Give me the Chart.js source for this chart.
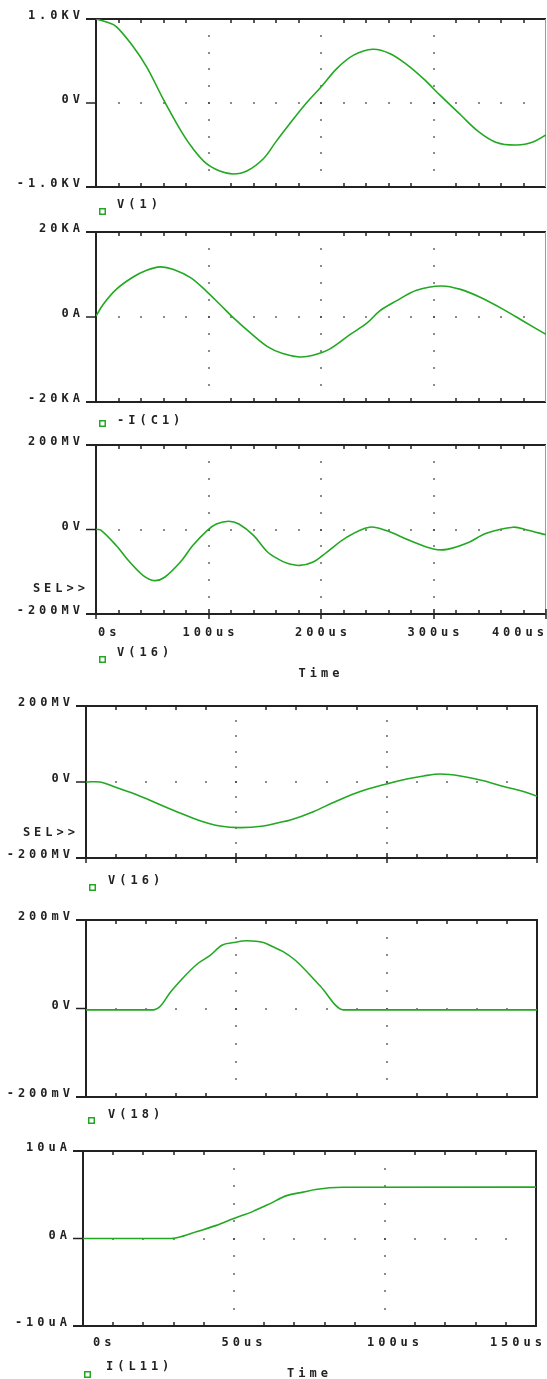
<!DOCTYPE html>
<html><head><meta charset="utf-8">
<script src="https://cdn.jsdelivr.net/npm/chart.js@4/dist/chart.umd.min.js"></script>
<style>
html,body{margin:0;padding:0;background:#fff;overflow:hidden;}
#wrap{position:relative;width:547px;height:1379px;overflow:hidden;}
canvas{position:absolute;left:0;}
</style></head><body><div id="wrap"></div>
<script>
// ---------- data ----------
const seriesNames = ['V(1)', '-I(C1)', 'V(16)', 'V(16)', 'V(18)', 'I(L11)'];
const xTitle = 'Time';
const selMark = 'SEL>>';

const xLabelsLong  = ['0s', '100us', '200us', '300us', '400us'];
const xLabelsShort = ['0s', '50us', '100us', '150us'];

const yLabels1 = ['-1.0KV', '0V', '1.0KV'];
const yLabels2 = ['-20KA', '0A', '20KA'];
const yLabels3 = ['-200MV', '0V', '200MV'];
const yLabels4 = ['-200MV', '0V', '200MV'];
const yLabels5 = ['-200mV', '0V', '200mV'];
const yLabels6 = ['-10uA', '0A', '10uA'];

// V(1) in kV, time in us
const t1 = [0, 10, 18, 32, 45, 60, 75, 86, 98, 110, 122, 134, 149, 160, 172, 187, 200, 214, 229, 246, 261, 276, 291, 306, 324, 340, 356, 374, 389, 400];
const v1 = [1.0, 0.96, 0.91, 0.69, 0.43, 0.04, -0.32, -0.54, -0.72, -0.81, -0.845, -0.81, -0.66, -0.46, -0.25, 0.0, 0.19, 0.41, 0.57, 0.64, 0.59, 0.46, 0.29, 0.09, -0.14, -0.34, -0.47, -0.50, -0.46, -0.38];

// -I(C1) in kA
const t2 = [0, 6.5, 18, 33, 45, 57, 69, 84, 98, 110, 122, 137, 152, 166, 181, 193, 208, 226, 241, 252, 267, 285, 307, 324, 341, 362, 380, 400];
const v2 = [0.2, 3.0, 6.5, 9.4, 11.0, 11.8, 11.2, 9.25, 6.1, 3.0, -0.15, -3.7, -6.9, -8.6, -9.4, -9.0, -7.5, -4.1, -1.4, 1.4, 3.8, 6.3, 7.3, 6.5, 4.7, 1.8, -1.0, -4.1];

// V(16) in mV, 0..400us
const t3 = [0, 4, 18, 30, 42, 52, 61, 75, 86, 99, 107, 118, 127, 140, 152, 162, 170, 181, 193, 205, 223, 243, 258, 279, 300, 312, 330, 347, 371, 383, 400];
const v3 = [0, -1, -38, -77, -109, -121, -113, -77, -38, -2, 13, 19.6, 13, -14, -52, -70, -80, -85, -77, -54, -18, 5.5, -2.4, -26, -46, -47, -32, -9, 5.5, -1, -12.6];

// V(16) in mV, 0..150us
const t4 = [0, 4.7, 9.2, 15.8, 22.4, 30.2, 37.9, 44.6, 51.2, 59, 64, 68, 75.6, 83.4, 91.2, 99, 106.7, 112.3, 117.8, 124.5, 132.2, 138.9, 145.5, 150];
const v4 = [0, 0, -12, -30, -52, -78, -102, -116, -120, -116, -107, -100, -78, -50, -25, -7, 8, 16, 21, 16, 3.5, -12, -25, -37];

// V(18) in mV
const t5 = [0, 22.5, 24.7, 28, 32.4, 36.9, 41.3, 45.2, 49.1, 53.5, 59, 62, 65.7, 69.6, 77.9, 85.6, 100, 150];
const v5 = [-3, -3, 5, 36, 70, 100, 120, 143, 149, 153, 149, 140, 128, 109, 51, -3, -3, -3];

// I(L11) in uA
const t6 = [0, 29.3, 33.1, 37.5, 44.2, 49.7, 56.3, 61.8, 67.4, 72.9, 77, 86, 150];
const v6 = [0, 0, 0.27, 0.76, 1.5, 2.25, 3.1, 3.96, 4.9, 5.3, 5.6, 5.85, 5.87];

// ---------- style ----------
const GREEN = '#22a822';
const INK = '#222222';
const DOT = '#333333';
const LS = '4px';
const FAMILY = '"DejaVu Sans Mono", monospace';
const FONT = {family: FAMILY, size: 12, weight: 'bold'};
Chart.defaults.font = FONT;
Chart.defaults.color = INK;

const panels = [
  {t: t1, v: v1, name: seriesNames[0], yMax: 1,   yLabels: yLabels1, xMax: 400, xMajor: 100, xMinor: 20, xLabels: xLabelsLong,
   top: 0,    h: 218, L: 96, R: 546, T: 19,   B: 187,  showX: false, showTitle: false, xPad: 12, xOff: 2, majorOut: false, rightDark: false,
   sqDx: 3, sqDy: 21, txDx: 21, txDy: 18, sel: false, tension: 0.35, mono: false},
  {t: t2, v: v2, name: seriesNames[1], yMax: 20,  yLabels: yLabels2, xMax: 400, xMajor: 100, xMinor: 20, xLabels: xLabelsLong,
   top: 218,  h: 212, L: 96, R: 546, T: 232,  B: 402,  showX: false, showTitle: false, xPad: 12, xOff: 2, majorOut: false, rightDark: false,
   sqDx: 3, sqDy: 18, txDx: 21, txDy: 18.5, sel: false, tension: 0.35, mono: false},
  {t: t3, v: v3, name: seriesNames[2], yMax: 200, yLabels: yLabels3, xMax: 400, xMajor: 100, xMinor: 20, xLabels: xLabelsLong,
   top: 430,  h: 260, L: 96, R: 546, T: 445,  B: 614,  showX: true,  showTitle: true,  xPad: 11.5, xOff: 2, majorOut: true, rightDark: false,
   sqDx: 3, sqDy: 42, txDx: 21, txDy: 39, sel: true, tension: 0.35, mono: false},
  {t: t4, v: v4, name: seriesNames[3], yMax: 200, yLabels: yLabels4, xMax: 150, xMajor: 50, xMinor: 10, xLabels: xLabelsShort,
   top: 690,  h: 210, L: 86, R: 537, T: 706,  B: 858,  showX: false, showTitle: false, xPad: 12, xOff: 2, majorOut: true, rightDark: true,
   sqDx: 3, sqDy: 26, txDx: 22, txDy: 22.5, sel: true, tension: 0.35, mono: false},
  {t: t5, v: v5, name: seriesNames[4], yMax: 200, yLabels: yLabels5, xMax: 150, xMajor: 50, xMinor: 10, xLabels: xLabelsShort,
   top: 900,  h: 230, L: 86, R: 537, T: 920,  B: 1097, showX: false, showTitle: false, xPad: 12, xOff: 2, majorOut: false, rightDark: true,
   sqDx: 2, sqDy: 20, txDx: 22, txDy: 17.5, sel: false, tension: 0, mono: true},
  {t: t6, v: v6, name: seriesNames[5], yMax: 10,  yLabels: yLabels6, xMax: 150, xMajor: 50, xMinor: 10, xLabels: xLabelsShort,
   top: 1130, h: 260, L: 83, R: 536, T: 1151, B: 1326, showX: true,  showTitle: true,  xPad: 9.5, xOff: 10, majorOut: false, rightDark: true,
   sqDx: 1, sqDy: 45, txDx: 23, txDy: 41, sel: false, tension: 0, mono: true}
];

function seg(ctx, x1, y1, x2, y2) {
  ctx.beginPath(); ctx.moveTo(x1, y1); ctx.lineTo(x2, y2); ctx.stroke();
}

function makePlugin(p) {
  return {
    id: 'pspiceFrame',
    beforeLayout(c) { c.ctx.letterSpacing = LS; },
    beforeDraw(c) { c.ctx.letterSpacing = LS; },
    beforeDatasetsDraw(c) {
      const ctx = c.ctx, a = c.chartArea, xs = c.scales.x, ys = c.scales.y;
      ctx.save();
      const y0 = ys.getPixelForValue(0);
      const nMinor = Math.round(p.xMax / p.xMinor);
      const per = Math.round(p.xMajor / p.xMinor);
      const nMajor = Math.round(p.xMax / p.xMajor);
      // dotted grid
      ctx.fillStyle = DOT;
      for (let i = 1; i < nMinor; i++) {
        const px = xs.getPixelForValue(i * p.xMinor);
        ctx.fillRect(Math.round(px) - 0.75, Math.round(y0) - 0.75, 1.5, 1.5);
      }
      for (let j = 1; j < nMajor; j++) {
        const px = xs.getPixelForValue(j * p.xMajor);
        for (let k = 1; k < 10; k++) {
          const py = ys.getPixelForValue(-p.yMax + k * p.yMax / 5);
          ctx.fillRect(Math.round(px) - 0.75, Math.round(py) - 0.75, 1.5, 1.5);
        }
      }
      // frame
      ctx.lineCap = 'butt';
      ctx.strokeStyle = INK;
      ctx.lineWidth = 2;
      seg(ctx, a.left - 10, a.top, a.right, a.top);
      seg(ctx, a.left - 10, a.bottom, a.right, a.bottom);
      seg(ctx, a.left, a.top - 1, a.left, a.bottom + 1);
      ctx.lineWidth = 1.5;
      seg(ctx, a.left - 10, y0, a.left, y0);
      if (p.rightDark) {
        ctx.lineWidth = 2;
        seg(ctx, a.right, a.top - 1, a.right, a.bottom + 1);
      } else {
        ctx.strokeStyle = '#9a9a9a'; ctx.lineWidth = 1;
        seg(ctx, a.right - 0.5, a.top, a.right - 0.5, a.bottom);
        ctx.strokeStyle = INK;
      }
      // minor tick marks (inside)
      ctx.lineWidth = 1.5;
      for (let i = 1; i < nMinor; i++) {
        if (i % per === 0) continue;
        const px = Math.round(xs.getPixelForValue(i * p.xMinor));
        seg(ctx, px, a.top, px, a.top + 4);
        seg(ctx, px, a.bottom - 4, px, a.bottom);
      }
      if (p.majorOut) {
        for (let j = 0; j <= nMajor; j++) {
          const px = Math.round(xs.getPixelForValue(j * p.xMajor));
          seg(ctx, px, a.bottom - 5, px, a.bottom + 5);
        }
      }
      ctx.restore();
    },
    afterDraw(c) {
      const ctx = c.ctx, a = c.chartArea;
      ctx.save();
      ctx.letterSpacing = LS;
      ctx.font = 'bold 12px ' + FAMILY;
      ctx.fillStyle = INK;
      ctx.textBaseline = 'middle';
      // legend
      ctx.textAlign = 'left';
      ctx.fillText(c.data.datasets[0].label, a.left + p.txDx, a.bottom + p.txDy);
      ctx.strokeStyle = GREEN; ctx.lineWidth = 1.5;
      ctx.strokeRect(a.left + p.sqDx + 0.75, a.bottom + p.sqDy + 0.75, 5.5, 5.5);
      // selection marker
      if (p.sel) {
        ctx.textAlign = 'right';
        ctx.fillText(selMark, a.left - 7, a.bottom - 25.5);
      }
      ctx.restore();
    }
  };
}

const wrap = document.getElementById('wrap');
panels.forEach((p) => {
  const cv = document.createElement('canvas');
  cv.width = 547; cv.height = p.h;
  cv.style.top = p.top + 'px';
  cv.style.width = '547px'; cv.style.height = p.h + 'px';
  wrap.appendChild(cv);
  const pts = p.t.map((tt, i) => ({x: tt, y: p.v[i]}));
  const ds = {label: p.name, data: pts, borderColor: GREEN, borderWidth: 1.6, pointRadius: 0, fill: false};
  if (p.mono) ds.cubicInterpolationMode = 'monotone'; else ds.tension = p.tension;
  new Chart(cv, {
    type: 'line',
    data: {datasets: [ds]},
    options: {
      responsive: false, animation: false, devicePixelRatio: 1,
      layout: {padding: {left: 0, top: p.T - p.top, right: 547 - p.R, bottom: 0}},
      plugins: {legend: {display: false}, tooltip: {enabled: false}},
      scales: {
        x: {type: 'linear', min: 0, max: p.xMax,
          ticks: {display: p.showX, stepSize: p.xMajor, padding: p.xPad, labelOffset: p.xOff, align: 'inner',
            autoSkip: false, maxRotation: 0, color: INK,
            callback: (val) => p.xLabels[Math.round(val / p.xMajor)]},
          grid: {display: false, drawTicks: false}, border: {display: false},
          title: {display: p.showTitle, text: xTitle, color: INK, padding: {top: 0, bottom: 9}},
          afterFit: (s) => { s.height = p.top + p.h - p.B; s.paddingLeft = 0; s.paddingRight = 0; }
        },
        y: {type: 'linear', min: -p.yMax, max: p.yMax,
          ticks: {stepSize: p.yMax, padding: 12, labelOffset: -3, autoSkip: false, color: INK,
            callback: (val) => p.yLabels[Math.round(val / p.yMax) + 1]},
          grid: {display: false, drawTicks: false}, border: {display: false},
          afterFit: (s) => { s.width = p.L; s.paddingTop = 0; s.paddingBottom = 0; }
        }
      }
    },
    plugins: [makePlugin(p)]
  });
});
</script>
</body></html>
